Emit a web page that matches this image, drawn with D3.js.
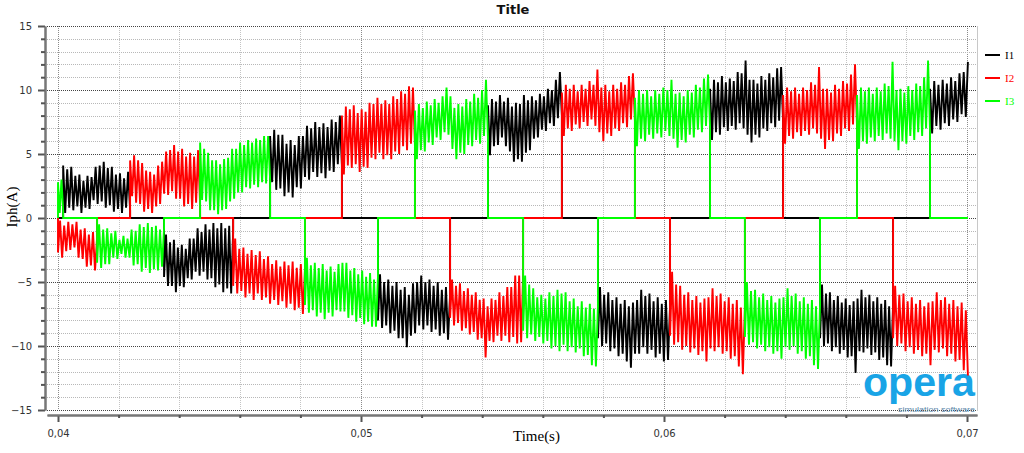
<!DOCTYPE html>
<html><head><meta charset="utf-8">
<script src="https://cdn.jsdelivr.net/npm/d3@7"></script>
<style>body{margin:0;background:#fff;} svg{display:block;}</style>
</head><body>
<svg id="chart" width="1024" height="453"></svg>
<script>
const chartTitle = "Title";
const xLabel = "Time(s)";
const yLabel = "Iph(A)";
const seriesNames = ["I1", "I2", "I3"];
const seriesColors = ["#000000", "#ff0000", "#00ff00"];
const xTicks = [0.04, 0.05, 0.06, 0.07];
const yTicks = [-15, -10, -5, 0, 5, 10, 15];
const tStart = 0.04;
const tEnd = 0.07003;

// conduction intervals [start, end] (s)
const i1Spans = [[0.04017,0.04238],[0.04350,0.04578],[0.04700,0.04937],[0.05056,0.05294],[0.05419,0.05663],[0.05782,0.06020],[0.06152,0.06393],[0.06515,0.06756],[0.06878,0.07003]];
const i2Spans = [[0.04000,0.04129],[0.04238,0.04469],[0.04578,0.04815],[0.04937,0.05178],[0.05294,0.05535],[0.05663,0.05904],[0.06020,0.06267],[0.06393,0.06637],[0.06756,0.07003]];
const i3Spans = [[0.04000,0.04017],[0.04129,0.04350],[0.04469,0.04700],[0.04815,0.05056],[0.05178,0.05419],[0.05535,0.05782],[0.05904,0.06152],[0.06267,0.06515],[0.06637,0.06878]];

// ripple extremes away from zero, per interval
const i1Far = [
 [4.1,3.8,4.0,3.3,3.4,2.9,3.3,3.2,4.0,4.1,4.4,3.9,4.0,3.4,3.5,3.1,3.6],
 [-4.6,-5.3,-5.3,-5.8,-5.3,-5.4,-4.7,-4.8,-4.2,-4.5,-4.2,-4.8,-4.7,-5.4,-5.2,-5.8,-5.5,-5.9],
 [6.4,6.9,6.5,6.5,5.8,6.1,5.7,6.4,6.4,7.2,7.0,7.5,7.1,7.4,7.1,7.7,7.5,8.0],
 [-8.0,-8.6,-8.4,-9.0,-8.8,-9.4,-9.4,-10.1,-9.2,-9.0,-8.4,-8.7,-8.4,-8.9,-8.7,-9.2,-9.0,-9.5],
 [8.8,9.3,9.1,9.6,9.1,9.4,8.7,9.0,8.9,9.6,9.2,9.5,9.2,9.7,9.5,10.1,10.0,10.8,11.4],
 [-9.4,-10.0,-9.8,-10.4,-10.2,-10.8,-10.6,-11.2,-11.7,-10.6,-10.6,-10.1,-10.6,-10.3,-10.9,-10.6,-11.2,-11.1],
 [10.1,10.8,10.6,11.1,10.6,10.9,10.7,11.4,11.3,12.3,10.8,10.8,10.5,11.1,10.8,11.3,11.0,11.7,11.8],
 [-9.4,-10.0,-9.8,-10.4,-10.1,-10.6,-10.3,-10.9,-10.8,-12.1,-10.4,-10.5,-10.2,-10.7,-10.5,-11.1,-10.9,-11.5,-11.6],
 [10.1,10.7,10.4,10.8,10.5,11.0,10.7,11.3,11.4,12.2]
];
// ripple extremes toward zero, per interval
const i1Near = [
 [0.4,0.8,0.6,0.9,0.4,0.8,0.7,1.4,1.1,1.3,0.8,1.0,0.5,0.7,0.4,0.8,0.6],
 [-1.3,-1.9,-1.7,-2.3,-2.1,-2.4,-1.6,-1.6,-0.8,-1.1,-0.5,-0.9,-0.4,-0.8,-0.4,-0.8,-0.6,-1.1],
 [2.8,2.2,2.3,1.7,2.0,1.6,2.4,2.3,3.2,3.0,3.6,3.2,3.5,3.1,3.7,3.6,4.2,4.1],
 [-4.4,-5.0,-4.8,-5.3,-5.0,-5.6,-5.4,-6.0,-5.1,-5.0,-4.5,-5.0,-4.8,-5.3,-5.0,-5.6,-5.4,-6.0],
 [4.9,5.6,5.7,6.3,5.6,5.2,4.4,4.6,4.4,5.1,5.3,6.2,6.3,6.9,6.8,7.4,7.2,7.8,8.0],
 [-5.4,-6.0,-5.8,-6.4,-6.2,-6.7,-6.4,-6.9,-6.6,-6.4,-5.6,-6.1,-5.9,-6.5,-6.2,-6.7,-6.4,-6.9],
 [6.1,6.7,6.5,7.1,6.8,7.2,6.9,7.4,7.0,6.5,5.9,6.5,6.3,7.0,6.8,7.4,7.1,7.6,7.5],
 [-5.2,-5.9,-5.8,-6.4,-6.1,-6.6,-6.3,-6.8,-6.5,-6.3,-5.6,-6.2,-6.0,-6.5,-6.2,-6.7,-6.4,-6.9,-6.8],
 [6.6,7.2,6.9,7.4,7.2,7.7,7.5,8.1,7.9]
];
const i2Far = [
 [-2.7,-3.1,-2.6,-2.5,-2.3,-3.1,-3.2,-3.8,-3.7,-4.1],
 [4.5,4.9,4.5,4.3,3.7,3.6,3.4,4.1,4.4,5.2,5.3,5.7,5.2,5.4,4.8,5.1,4.8,5.3],
 [-5.3,-5.9,-5.7,-6.2,-5.9,-6.4,-5.9,-6.4,-6.2,-6.7,-6.4,-6.8,-6.5,-7.0,-6.7,-7.2,-7.0,-7.5],
 [8.0,8.7,8.5,8.8,8.2,8.5,8.3,9.0,8.9,9.4,8.9,9.2,8.9,9.5,9.3,9.9,9.7,10.3,10.2],
 [-7.8,-8.4,-8.2,-8.8,-8.6,-9.1,-8.9,-9.5,-9.4,-10.9,-9.6,-9.7,-9.2,-9.6,-9.2,-9.7,-9.3,-9.8,-9.7],
 [9.8,10.4,10.1,10.4,9.9,10.4,10.1,10.7,10.4,11.6,10.2,10.4,9.9,10.4,10.1,10.6,10.4,11.1,11.3],
 [-9.2,-9.9,-9.7,-10.3,-10.0,-10.5,-10.2,-10.7,-10.4,-11.2,-10.2,-10.4,-10.1,-10.6,-10.4,-11.0,-10.8,-11.6,-12.2],
 [9.6,10.2,9.9,10.2,9.7,10.2,10.0,10.6,10.4,11.8,10.1,10.1,9.8,10.4,10.1,10.7,10.5,11.2,12.0],
 [-9.4,-10.0,-9.8,-10.4,-10.1,-10.6,-10.3,-10.8,-10.6,-11.5,-10.3,-10.5,-10.2,-10.8,-10.6,-11.2,-11.1,-11.9,-12.3]
];
const i2Near = [
 [-0.2,-0.6,-0.3,-0.5,-0.3,-0.9,-0.8,-1.3,-1.1,-1.5],
 [1.7,1.2,1.1,0.5,0.7,0.4,0.9,1.1,1.9,1.8,2.1,1.5,1.5,0.9,1.1,0.7,1.2,1.0],
 [-1.6,-2.4,-2.3,-2.8,-2.5,-2.9,-2.6,-3.2,-3.0,-3.6,-3.3,-3.8,-3.4,-3.7,-3.4,-3.9,-3.6,-4.0],
 [3.4,4.1,3.9,4.2,3.6,4.0,3.9,4.7,4.6,5.1,4.6,4.9,4.6,5.2,5.0,5.6,5.3,5.8,5.7],
 [-4.8,-5.3,-5.1,-5.7,-5.5,-6.0,-5.8,-6.4,-6.3,-6.9,-6.3,-6.4,-5.8,-6.1,-5.4,-5.4,-4.5,-4.5,-4.4],
 [6.4,7.0,6.8,7.3,7.0,7.5,7.2,7.7,7.2,6.7,6.0,6.6,6.4,7.0,6.8,7.4,7.1,7.7,7.6],
 [-4.2,-5.2,-5.3,-6.0,-5.8,-6.4,-6.1,-6.6,-6.3,-6.2,-5.5,-6.1,-5.9,-6.5,-6.2,-6.7,-6.4,-7.0,-6.9],
 [5.8,6.4,6.2,6.7,6.4,6.8,6.5,7.0,6.6,6.2,5.4,6.1,6.0,6.6,6.4,7.0,6.8,7.3,7.2],
 [-5.3,-6.0,-5.9,-6.5,-6.2,-6.7,-6.4,-6.9,-6.6,-6.5,-5.8,-6.4,-6.2,-6.7,-6.4,-6.9,-6.6,-7.2]
];
const i3Far = [
 [2.8,3.0],
 [-3.5,-3.9,-3.6,-3.6,-3.1,-3.2,-2.8,-3.1,-3.1,-3.7,-3.6,-4.2,-3.9,-4.3,-4.0,-4.1,-3.8],
 [5.9,5.4,5.1,4.5,4.5,4.2,4.6,4.7,5.4,5.4,5.9,5.7,6.1,5.9,6.2,6.1,6.4,6.4],
 [-6.8,-7.4,-7.2,-7.7,-7.4,-7.9,-7.4,-7.7,-7.2,-7.3,-7.3,-7.8,-7.6,-8.1,-7.8,-8.3,-8.1,-8.5,-8.5],
 [8.4,8.9,8.6,9.1,8.8,9.3,9.0,9.5,10.2,9.5,8.6,8.9,8.7,9.3,9.1,9.7,9.4,10.0,10.8],
 [-8.8,-9.4,-9.1,-9.6,-9.3,-9.8,-9.6,-10.2,-10.0,-10.4,-9.9,-10.4,-10.1,-10.5,-10.2,-10.8,-10.7,-11.5,-11.6],
 [9.4,10.0,9.7,10.0,9.5,10.0,9.7,10.2,10.0,10.8,9.7,9.8,9.5,10.0,9.8,10.4,10.2,10.9,11.2],
 [-9.3,-9.9,-9.7,-10.2,-9.9,-10.4,-10.1,-10.6,-10.4,-11.0,-10.1,-10.3,-10.0,-10.6,-10.4,-11.0,-10.8,-11.5,-11.8],
 [9.6,10.2,9.9,10.2,9.7,10.2,9.9,10.5,10.3,12.2,10.0,10.1,9.8,10.3,10.0,10.5,10.3,11.0,12.3]
];
const i3Near = [
 [0.4,0.6],
 [-0.5,-0.9,-0.8,-1.2,-1.0,-1.7,-1.4,-1.6,-0.9,-1.0,-0.5,-0.7,-0.4,-0.7,-0.6,-0.9,-0.8],
 [1.4,1.3,0.6,0.6,0.3,0.6,0.7,1.3,1.5,2.0,2.0,2.4,2.3,2.6,2.4,2.8,2.7,3.0],
 [-3.1,-3.7,-3.5,-3.9,-3.6,-4.1,-3.8,-4.2,-3.6,-3.5,-3.5,-4.1,-3.9,-4.4,-4.1,-4.6,-4.3,-4.8,-4.6],
 [4.6,5.3,5.2,5.9,5.7,6.3,6.1,6.7,6.5,5.4,4.6,5.1,5.0,5.7,5.6,6.1,5.8,6.4,6.3],
 [-4.5,-5.2,-5.5,-6.2,-6.0,-6.3,-5.8,-6.1,-5.6,-5.9,-5.8,-6.5,-6.3,-6.9,-6.5,-7.0,-6.7,-7.1,-6.9],
 [5.6,6.2,6.0,6.5,6.2,6.6,6.3,6.8,6.4,6.2,5.5,6.1,5.9,6.5,6.3,6.9,6.7,7.2,7.1],
 [-5.0,-5.7,-5.6,-6.2,-5.9,-6.4,-6.1,-6.6,-6.3,-6.2,-5.5,-6.1,-5.9,-6.5,-6.2,-6.7,-6.4,-6.9,-6.8],
 [5.4,6.0,5.8,6.3,6.0,6.4,6.1,6.6,6.2,6.0,5.3,6.0,5.8,6.4,6.1,6.7,6.4,7.0,6.8]
];

function buildPoints(spans, far, near) {
  const pts = [[tStart, 0]];
  spans.forEach((s, k) => {
    const t0 = s[0], t1 = s[1];
    pts.push([t0, 0]);
    const vals = [];
    far[k].forEach((v, i) => { vals.push(v); if (i < near[k].length) vals.push(near[k][i]); });
    const n = vals.length;
    vals.forEach((v, i) => pts.push([t0 + (t1 - t0) * i / (n - 1), v]));
    if (t1 < tEnd - 1e-6) pts.push([t1, 0]);
  });
  const last = spans[spans.length - 1][1];
  if (last < tEnd - 1e-6) pts.push([tEnd, 0]);
  return pts;
}
const seriesData = [
  buildPoints(i1Spans, i1Far, i1Near),
  buildPoints(i2Spans, i2Far, i2Near),
  buildPoints(i3Spans, i3Far, i3Near)
];

const svg = d3.select("#chart");
const pLeft = 47, pRight = 977, pTop = 26, pBottom = 410;
const x = d3.scaleLinear().domain([0.04 - 11 / 30300, 0.07 + 10 / 30300]).range([pLeft, pRight]);
const y = d3.scaleLinear().domain([-15, 15]).range([pBottom, pTop]);

const minorX = d3.range(0, 16).map(i => 0.04 + i * 0.002).filter(v => Math.abs(Math.round(v * 100) - v * 100) > 1e-6);
const minorY = d3.range(-15, 16).filter(v => v % 5 !== 0);

// grid
const grid = svg.append("g");
grid.selectAll(".vmin").data(minorX).join("line")
  .attr("x1", d => Math.round(x(d)) + 0.5).attr("x2", d => Math.round(x(d)) + 0.5)
  .attr("y1", pTop).attr("y2", pBottom)
  .attr("stroke", "#c4c4c4").attr("stroke-dasharray", "1,1");
grid.selectAll(".vmaj").data(xTicks).join("line")
  .attr("x1", d => Math.round(x(d)) + 0.5).attr("x2", d => Math.round(x(d)) + 0.5)
  .attr("y1", pTop).attr("y2", pBottom)
  .attr("stroke", "#8a8a8a").attr("stroke-dasharray", "1,1");
grid.selectAll(".hmin").data(minorY).join("line")
  .attr("x1", pLeft).attr("x2", pRight)
  .attr("y1", d => Math.round(y(d)) + 0.5).attr("y2", d => Math.round(y(d)) + 0.5)
  .attr("stroke", "#b8b8b8").attr("stroke-dasharray", "1,1");
grid.selectAll(".hmaj").data(yTicks).join("line")
  .attr("x1", pLeft).attr("x2", pRight)
  .attr("y1", d => Math.round(y(d)) + 0.5).attr("y2", d => Math.round(y(d)) + 0.5)
  .attr("stroke", "#444").attr("stroke-dasharray", "1,1");
grid.append("line").attr("x1", pRight + 0.5).attr("x2", pRight + 0.5).attr("y1", pTop).attr("y2", pBottom + 1)
  .attr("stroke", "#c8c8c8");

// logo
const logo = svg.append("g");
logo.append("rect").attr("x", 861).attr("y", 374).attr("width", 115).attr("height", 36).attr("fill", "#fff");
logo.append("text").attr("x", 863).attr("y", 396).attr("textLength", 112).attr("lengthAdjust", "spacingAndGlyphs")
  .style("font-family", "'Liberation Sans', Arial, sans-serif").style("font-weight", "bold").style("font-size", "40px")
  .attr("fill", "#19a4e6").text("opera");
logo.append("text").attr("x", 898).attr("y", 412).attr("textLength", 77).attr("lengthAdjust", "spacingAndGlyphs")
  .style("font-family", "'Liberation Sans', Arial, sans-serif").style("font-size", "8px")
  .attr("fill", "#5b86a8").text("simulation software");

// series
const line = d3.line().x(d => x(d[0])).y(d => y(d[1]));
const plot = svg.append("g");
seriesData.forEach((pts, i) => {
  plot.append("path").datum(pts).attr("d", line)
    .attr("fill", "none").attr("stroke", seriesColors[i]).attr("stroke-width", 1.9)
    .attr("stroke-linejoin", "miter");
});

// axes
const axisFont = "'DejaVu Sans', Verdana, sans-serif";
svg.append("g").attr("transform", "translate(45,0)")
  .call(d3.axisLeft(y).tickValues(yTicks).tickFormat(d3.format("d")).tickSize(7).tickSizeOuter(0).tickPadding(6));
svg.append("g").attr("transform", "translate(45,0)")
  .call(d3.axisLeft(y).tickValues(minorY).tickFormat("").tickSize(4).tickSizeOuter(0));
svg.append("g").attr("transform", "translate(0,415)")
  .call(d3.axisBottom(x).tickValues(xTicks).tickFormat(d => d.toFixed(2).replace(".", ",")).tickSize(7).tickSizeOuter(0).tickPadding(8));
svg.append("g").attr("transform", "translate(0,415)")
  .call(d3.axisBottom(x).tickValues(minorX).tickFormat("").tickSize(3).tickSizeOuter(0));
svg.selectAll(".domain").attr("stroke", "#777").attr("stroke-width", 2);
svg.selectAll(".tick line").attr("stroke", "#555").attr("stroke-width", 2);
svg.selectAll(".tick text").style("font-family", axisFont).style("font-size", "10px").attr("fill", "#333");

// titles
svg.append("text").attr("x", 513).attr("y", 14).attr("text-anchor", "middle")
  .style("font-family", axisFont).style("font-weight", "bold").style("font-size", "13px").attr("fill", "#111").text(chartTitle);
svg.append("text").attr("x", 513).attr("y", 441)
  .style("font-family", "'Liberation Serif', 'Times New Roman', serif").style("font-size", "15px").attr("fill", "#000").text(xLabel);
svg.append("text").attr("transform", "translate(17,207) rotate(-90)").attr("text-anchor", "middle")
  .style("font-family", "'Liberation Serif', 'Times New Roman', serif").style("font-size", "15px").attr("fill", "#000").text(yLabel);

// legend
const legend = svg.append("g");
const legendY = [55, 78, 101];
seriesNames.forEach((name, i) => {
  legend.append("line").attr("x1", 985).attr("x2", 1000).attr("y1", legendY[i]).attr("y2", legendY[i])
    .attr("stroke", seriesColors[i]).attr("stroke-width", 2);
  legend.append("text").attr("x", 1005).attr("y", legendY[i] + 4)
    .style("font-family", "'Liberation Serif', 'Times New Roman', serif").style("font-size", "11px")
    .attr("fill", seriesColors[i]).text(name);
});
</script>
</body></html>
